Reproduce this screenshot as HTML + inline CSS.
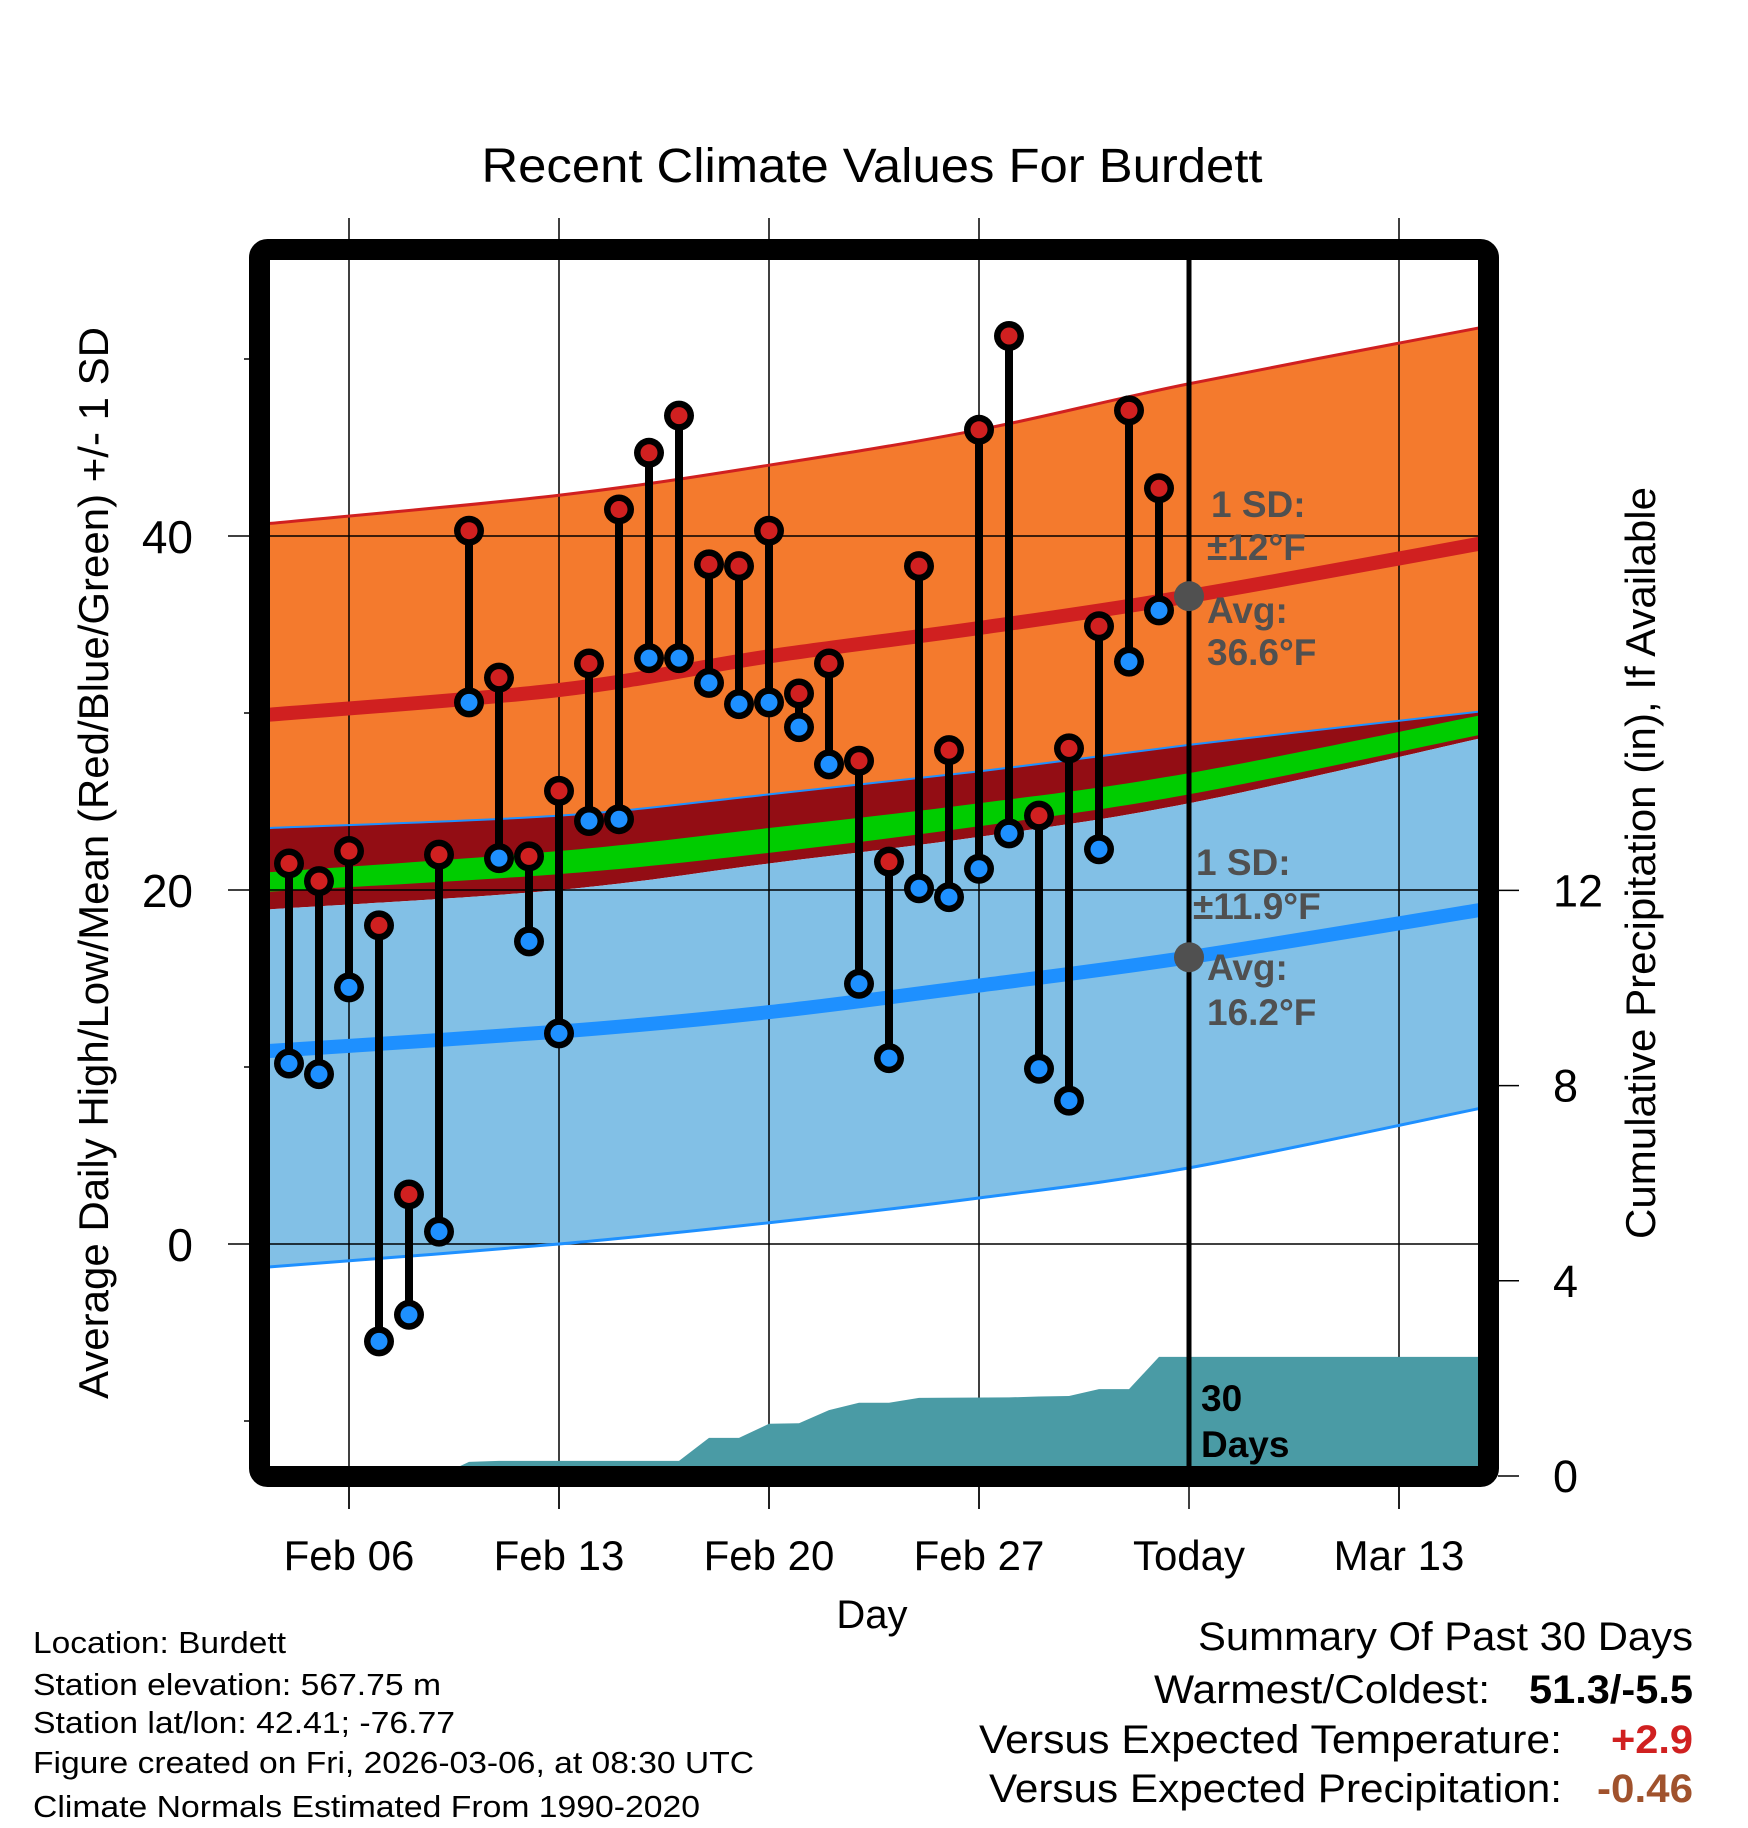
<!DOCTYPE html>
<html><head><meta charset="utf-8"><title>Recent Climate Values For Burdett</title>
<style>html,body{margin:0;padding:0;background:#fff}svg{display:block}text{font-family:"Liberation Sans",Arial,sans-serif}</style></head>
<body>
<svg id="chart" width="1748" height="1828" viewBox="0 0 1748 1828" xmlns="http://www.w3.org/2000/svg">
<defs><clipPath id="plotclip"><rect x="270" y="260" width="1208" height="1206"/></clipPath></defs>
<rect width="1748" height="1828" fill="#fff"/>
<g id="bands" clip-path="url(#plotclip)"></g>
<g id="grid"></g>
<g id="precip" clip-path="url(#plotclip)"></g>
<g id="lines" clip-path="url(#plotclip)"></g>
<g id="marks"></g>
<g id="annot">
  <text x="1211" y="517" font-size="37" font-weight="bold" fill="#505050">1 SD:</text>
  <text x="1207" y="560" font-size="37" font-weight="bold" fill="#505050">±12°F</text>
  <text x="1207" y="623" font-size="37" font-weight="bold" fill="#505050">Avg:</text>
  <text x="1207" y="665" font-size="37" font-weight="bold" fill="#505050">36.6°F</text>
  <text x="1196" y="875" font-size="37" font-weight="bold" fill="#505050">1 SD:</text>
  <text x="1193" y="919" font-size="37" font-weight="bold" fill="#505050">±11.9°F</text>
  <text x="1207" y="980" font-size="37" font-weight="bold" fill="#505050">Avg:</text>
  <text x="1207" y="1025" font-size="37" font-weight="bold" fill="#505050">16.2°F</text>
  <text x="1201" y="1411" font-size="37" font-weight="bold" fill="#000">30</text>
  <text x="1201" y="1457" font-size="37" font-weight="bold" fill="#000">Days</text>
</g>
<rect x="259.5" y="249.5" width="1229" height="1227" rx="8" fill="none" stroke="#000" stroke-width="21"/>
<g id="axes"></g>
<text x="872" y="182" font-size="48" text-anchor="middle" textLength="781" lengthAdjust="spacingAndGlyphs">Recent Climate Values For Burdett</text>
<text x="872" y="1628" font-size="40" text-anchor="middle">Day</text>
<text transform="translate(108,863) rotate(-90)" font-size="42" text-anchor="middle" textLength="1072" lengthAdjust="spacingAndGlyphs">Average Daily High/Low/Mean (Red/Blue/Green) +/- 1 SD</text>
<text transform="translate(1655,863) rotate(-90)" font-size="42" text-anchor="middle" textLength="752" lengthAdjust="spacingAndGlyphs">Cumulative Precipitation (in), If Available</text>
<g font-size="31">
  <text x="33" y="1653" textLength="253" lengthAdjust="spacingAndGlyphs">Location: Burdett</text>
  <text x="33" y="1695" textLength="408" lengthAdjust="spacingAndGlyphs">Station elevation: 567.75 m</text>
  <text x="33" y="1733" textLength="422" lengthAdjust="spacingAndGlyphs">Station lat/lon: 42.41; -76.77</text>
  <text x="33" y="1773" textLength="721" lengthAdjust="spacingAndGlyphs">Figure created on Fri, 2026-03-06, at 08:30 UTC</text>
  <text x="33" y="1817" textLength="667" lengthAdjust="spacingAndGlyphs">Climate Normals Estimated From 1990-2020</text>
</g>
<g font-size="40">
  <text x="1198" y="1650" textLength="495" lengthAdjust="spacingAndGlyphs">Summary Of Past 30 Days</text>
  <text x="1154" y="1703" textLength="336" lengthAdjust="spacingAndGlyphs">Warmest/Coldest:</text>
  <text x="1529" y="1703" font-weight="bold" textLength="164" lengthAdjust="spacingAndGlyphs">51.3/-5.5</text>
  <text x="979" y="1753" textLength="583" lengthAdjust="spacingAndGlyphs">Versus Expected Temperature:</text>
  <text x="1611" y="1753" font-weight="bold" fill="#D02020" textLength="82" lengthAdjust="spacingAndGlyphs">+2.9</text>
  <text x="989" y="1802" textLength="573" lengthAdjust="spacingAndGlyphs">Versus Expected Precipitation:</text>
  <text x="1597" y="1802" font-weight="bold" fill="#A0522D" textLength="96" lengthAdjust="spacingAndGlyphs">-0.46</text>
</g>
</svg>
<script>
// day numbers: Feb 1 = 1, Mar 1 = 29
const days = [4,5,6,7,8,9,10,11,12,13,14,15,16,17,18,19,20,21,22,23,24,25,26,27,28,29,30,31,32,33];
const highs = [21.5,20.5,22.2,18.0,2.8,22.0,40.3,32.0,21.9,25.6,32.8,41.5,44.7,46.8,38.4,38.3,40.3,31.1,32.8,27.3,21.6,38.3,27.9,46.0,51.3,24.2,28.0,34.9,47.1,42.7];
const lows = [10.2,9.6,14.5,-5.5,-4.0,0.7,30.6,21.8,17.1,11.9,23.9,24.0,33.1,33.1,31.7,30.5,30.6,29.2,27.1,14.7,10.5,20.1,19.6,21.2,23.2,9.9,8.1,22.3,32.9,35.8];
const precipDays = [9,10,11,17,18,19,20,21,22,23,24,25,28,29,30,31,32,33,44];
const precipCum = [0,0.29,0.31,0.31,0.78,0.78,1.07,1.08,1.35,1.5,1.5,1.6,1.61,1.63,1.64,1.78,1.78,2.44,2.44];
const normDays = [3.3,13,20,27,34,43.8];
const orangeTop = [40.7,42.3,44.0,46.0,48.6,51.8];
const highMean = [29.9,31.3,33.2,34.8,36.6,39.6];
const orangeBottom = [23.5,24.2,25.4,26.7,28.2,30.1];
const greenTop = [21.0,22.2,23.5,24.9,26.6,29.9];
const greenBottom = [19.9,20.9,22.1,23.6,25.4,28.8];
const blueTop = [18.9,20.0,21.5,23.0,24.9,28.6];
const lowMean = [10.9,12.0,13.1,14.6,16.2,18.9];
const blueBottom = [-1.3,0.0,1.2,2.6,4.3,7.7];
const xTickDays = [6,13,20,27,34,41];
const xTickLabels = ["Feb 06","Feb 13","Feb 20","Feb 27","Today","Mar 13"];
const yTicks = [0,20,40];
const yMinorTicks = [-10,10,30,50];
const y2Ticks = [0,4,8,12];
const todayDay = 34;
const todayHigh = 36.6, todayLow = 16.2;

const NS = "http://www.w3.org/2000/svg";
const xs = d => 349 + (d - 6) * 30;
const ys = v => 1244 - v * 17.7;
const yp = v => 1476 - v * 48.8;
function el(tag, attrs, parent){const e=document.createElementNS(NS,tag);for(const k in attrs)e.setAttribute(k,attrs[k]);parent.appendChild(e);return e;}
function smoothPts(ds, vs){
  const p = ds.map((d,i)=>[xs(d), ys(vs[i])]);
  let s = "M"+p[0][0]+","+p[0][1];
  for(let i=0;i<p.length-1;i++){
    const p0=p[Math.max(0,i-1)],p1=p[i],p2=p[i+1],p3=p[Math.min(p.length-1,i+2)];
    const c1=[p1[0]+(p2[0]-p0[0])/6,p1[1]+(p2[1]-p0[1])/6];
    const c2=[p2[0]-(p3[0]-p1[0])/6,p2[1]-(p3[1]-p1[1])/6];
    s+=" C"+c1.join(",")+" "+c2.join(",")+" "+p2.join(",");
  }
  return s;
}
function revPts(ds, vs){return smoothPts(ds.slice().reverse(), vs.slice().reverse()).replace(/^M/,"L");}
function band(top,bot,fill,name,g){
  const p = el("path",{d:smoothPts(normDays,top)+" "+revPts(normDays,bot)+" Z",fill:fill},g);
  
  
}
const bands=document.getElementById("bands");
band(orangeTop,orangeBottom,"#F47A2D","high-sd-band",bands);
band(orangeBottom,blueTop,"#930D14","mean-sd-band",bands);
band(greenTop,greenBottom,"#00CC00","mean-band",bands);
band(blueTop,blueBottom,"#82C0E6","low-sd-band",bands);

const grid=document.getElementById("grid");
xTickDays.forEach((d,i)=>{
  if(d===todayDay) return;
  const l=el("line",{x1:xs(d),x2:xs(d),y1:218,y2:1509,stroke:"#000","stroke-width":1.5},grid);
  
  
});
yTicks.forEach(v=>{
  const l=el("line",{x1:228,x2:1478,y1:ys(v),y2:ys(v),stroke:"#000","stroke-width":1.5},grid);
  
  
});

const pr=document.getElementById("precip");
let pd="M"+xs(precipDays[0])+","+yp(0);
precipDays.forEach((d,i)=>{pd+=" L"+xs(d)+","+yp(precipCum[i]);});
pd+=" L"+xs(precipDays[precipDays.length-1])+","+yp(0)+" Z";
const pp=el("path",{d:pd,fill:"#4A9BA5"},pr);



const lines=document.getElementById("lines");
function line(vals,color,w,name){
  const l=el("path",{d:smoothPts(normDays,vals),fill:"none",stroke:color,"stroke-width":w},lines);
  
  
}
line(orangeTop,"#D02020",3,"high-upper-sd-line");
line(orangeBottom,"#1E90FF",2,"high-lower-sd-line");
line(blueBottom,"#1E90FF",3,"low-lower-sd-line");
line(highMean,"#D02020",14,"high-mean-line");
line(lowMean,"#1E90FF",14,"low-mean-line");
const tl=el("line",{x1:xs(todayDay),x2:xs(todayDay),y1:218,y2:1466,stroke:"#000","stroke-width":5},lines);



const marks=document.getElementById("marks");
days.forEach((d,i)=>{
  const x=xs(d);
  const s=el("line",{x1:x,x2:x,y1:ys(highs[i]),y2:ys(lows[i]),stroke:"#000","stroke-width":8},marks);
  
  
});
days.forEach((d,i)=>{
  const x=xs(d);
  [[highs[i],"#D02020","high-point"],[lows[i],"#1E90FF","low-point"]].forEach(([v,c,n])=>{
    const o=el("circle",{cx:x,cy:ys(v),r:15,fill:"#000"},marks);
    
    
    const ic=el("circle",{cx:x,cy:ys(v),r:8.5,fill:c},marks);
    
    
  });
});
[todayHigh,todayLow].forEach((v,i)=>{
  const c=el("circle",{cx:xs(todayDay),cy:ys(v),r:15,fill:"#505050"},marks);
  
  
});

const axes=document.getElementById("axes");
xTickDays.forEach((d,i)=>{
  const t=el("line",{x1:xs(d),x2:xs(d),y1:1487,y2:1509,stroke:"#000","stroke-width":1.5},axes);
  
  
  const tx=el("text",{x:xs(d),y:1570,"font-size":42,"text-anchor":"middle"},axes);
  tx.textContent=xTickLabels[i];
  
  
});
yTicks.forEach(v=>{
  const tx=el("text",{x:193,y:ys(v)+17,"font-size":46,"text-anchor":"end"},axes);
  tx.textContent=String(v);
  
  
});
yMinorTicks.forEach(v=>{
  const t=el("line",{x1:244,x2:250,y1:ys(v),y2:ys(v),stroke:"#000","stroke-width":1.5},axes);
  
  
});
y2Ticks.forEach(v=>{
  const t=el("line",{x1:1498,x2:1519,y1:yp(v),y2:yp(v),stroke:"#000","stroke-width":1.5},axes);
  
  
  const tx=el("text",{x:1553,y:yp(v)+16,"font-size":45},axes);
  tx.textContent=String(v);
  
  
});
</script>
</body></html>
